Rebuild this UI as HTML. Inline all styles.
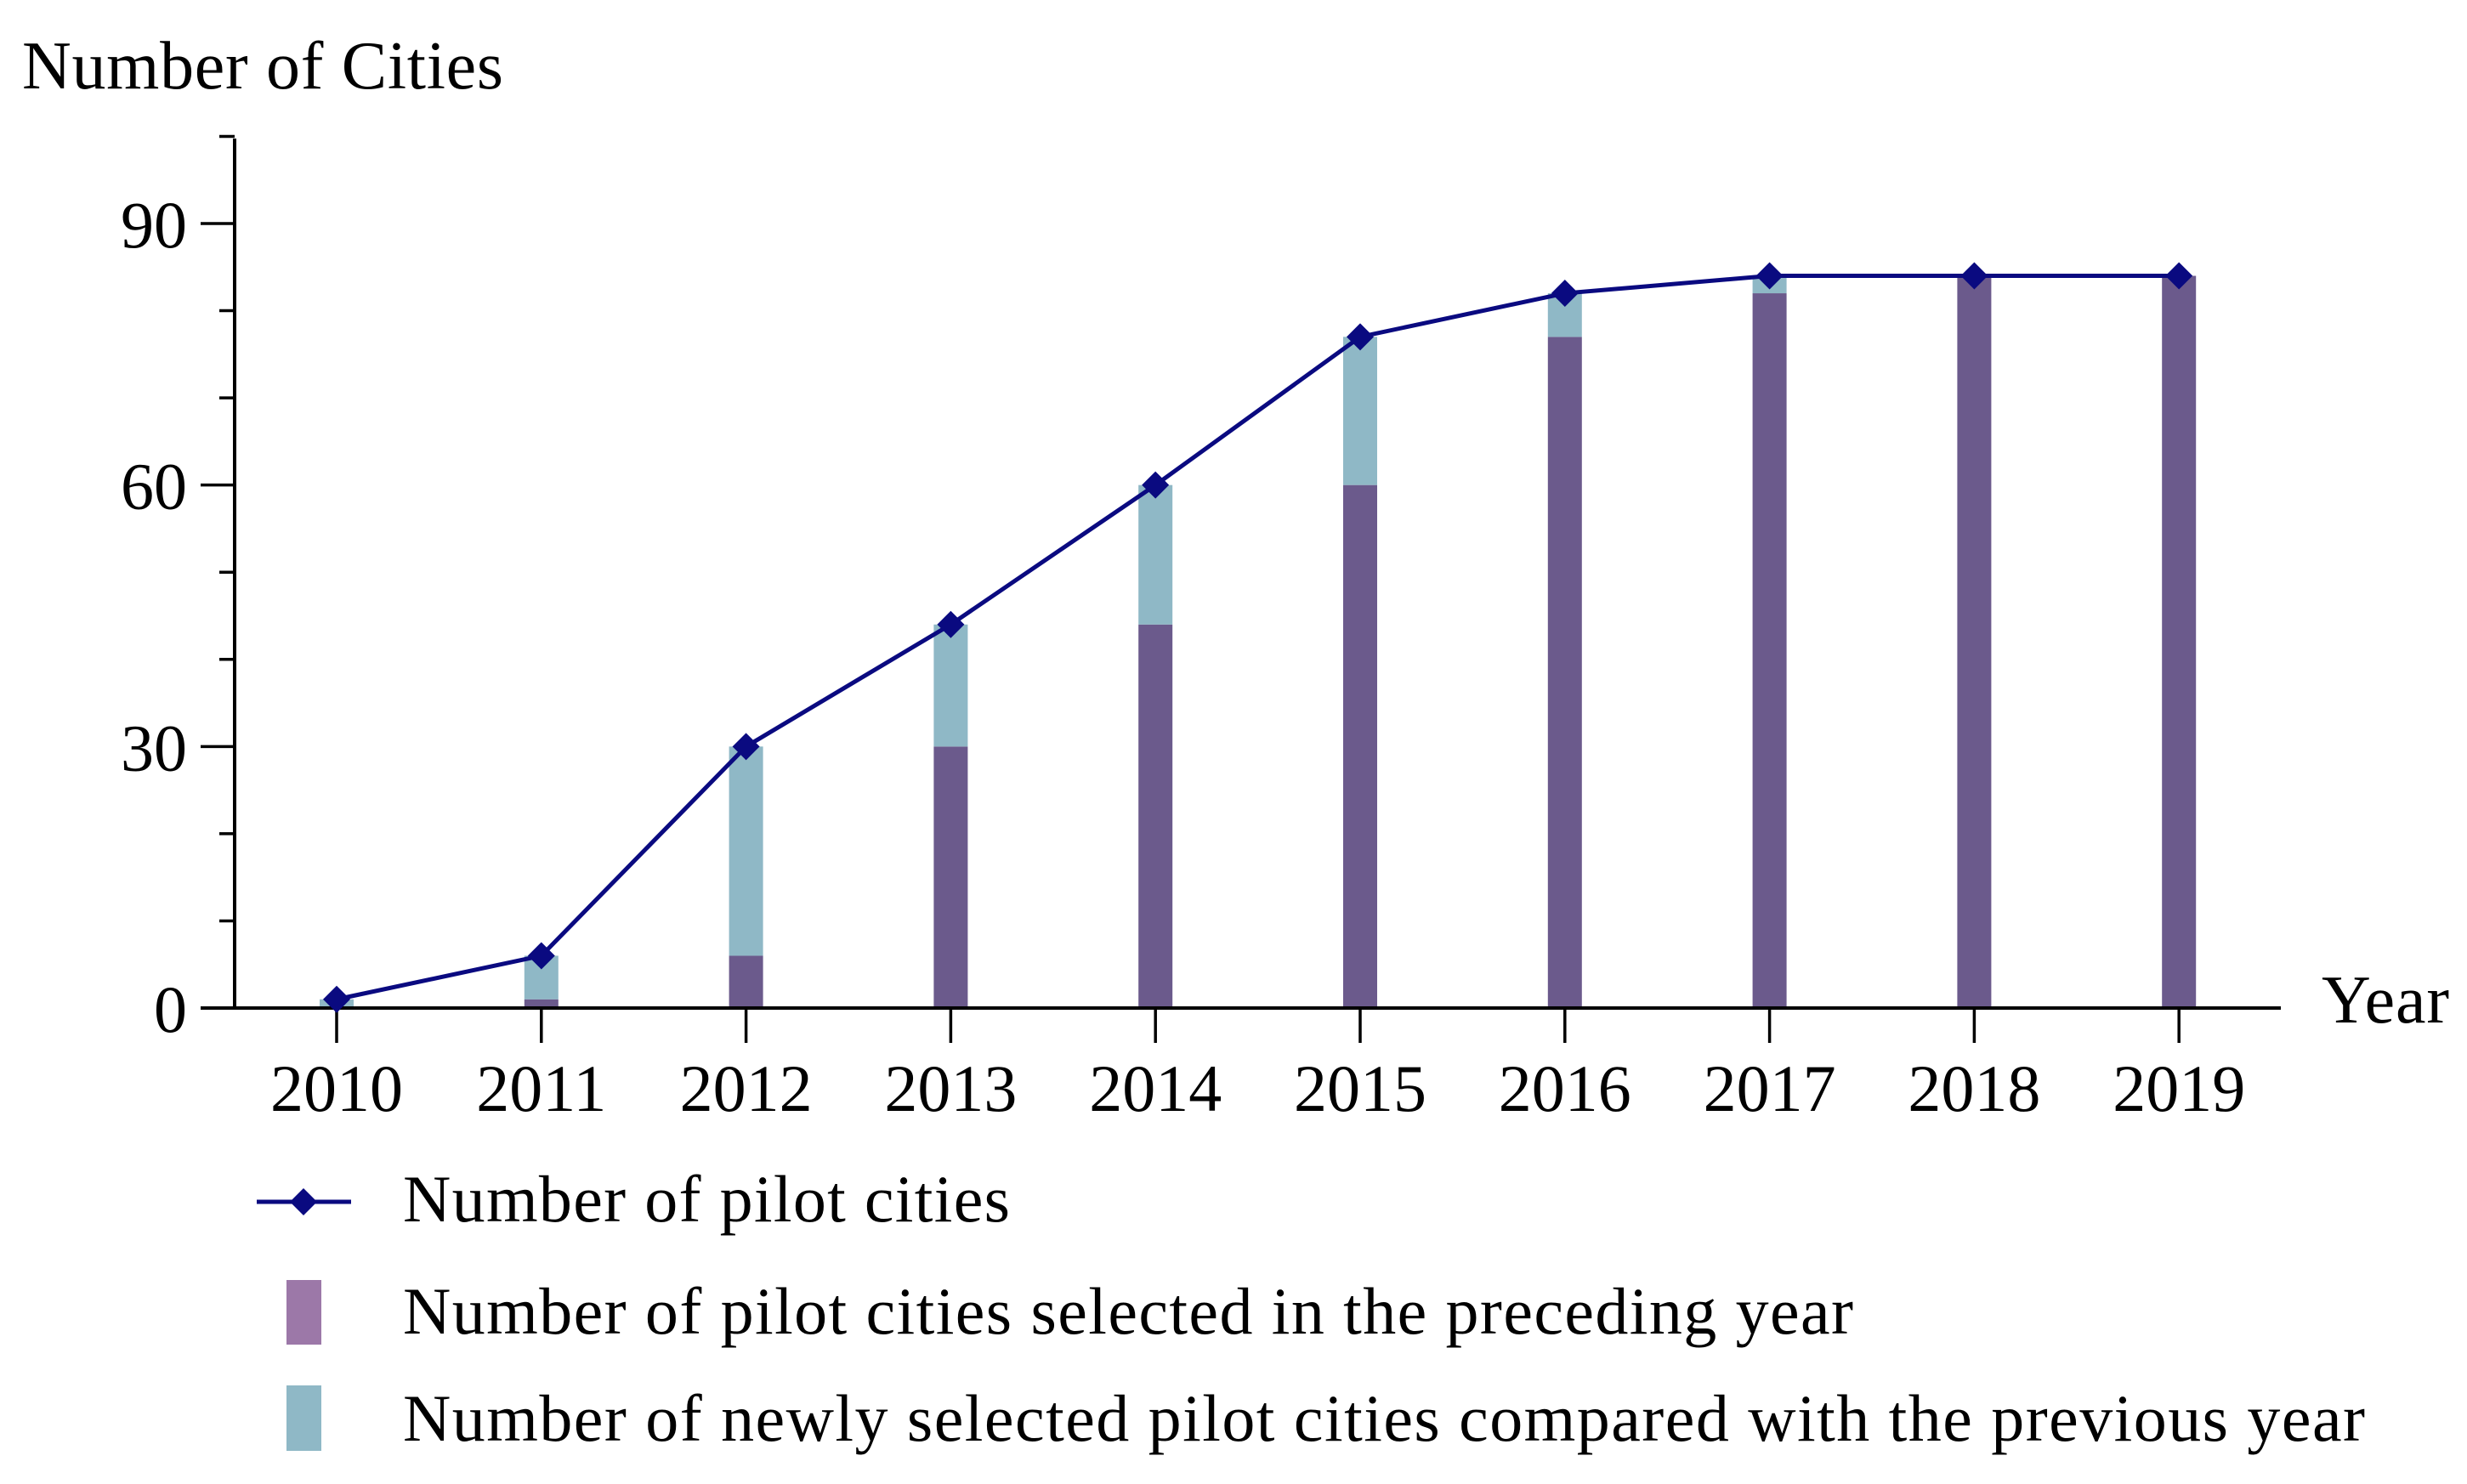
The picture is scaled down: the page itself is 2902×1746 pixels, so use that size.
<!DOCTYPE html>
<html><head><meta charset="utf-8"><style>
html,body{margin:0;padding:0;background:#fff;}
svg{display:block;font-family:"Liberation Serif",serif;}
</style></head><body>
<svg id="chart" width="2902" height="1746" viewBox="0 0 2902 1746">
<text x="26" y="104" font-size="80" textLength="566">Number of Cities</text>
<text x="2731" y="1203" font-size="80" textLength="150">Year</text>
<g id="bars"></g>
<g id="axes"></g>
<g id="line"></g>
<g>
<line x1="302" y1="1414" x2="413" y2="1414" stroke="#0a0a80" stroke-width="5"/>
<polygon points="357,1398 373,1414 357,1430 341,1414" fill="#0a0a80"/>
<text x="474" y="1437" font-size="78" textLength="714">Number of pilot cities</text>
<rect x="337" y="1506" width="41" height="76" fill="#9c78a8"/>
<text x="474" y="1569" font-size="78" textLength="1706">Number of pilot cities selected in the preceding year</text>
<rect x="337" y="1630" width="41" height="77" fill="#8fb8c6"/>
<text x="474" y="1695" font-size="78" textLength="2308">Number of newly selected pilot cities compared with the previous year</text>
</g>
</svg>
<script>
const years = ["2010","2011","2012","2013","2014","2015","2016","2017","2018","2019"];
const preceding = [0,1,6,30,44,60,77,82,84,84];
const newlySelected = [1,5,24,14,16,17,5,2,0,0];
const totals = [1,6,30,44,60,77,82,84,84,84];
const yTicks = [0,30,60,90];

const NS = "http://www.w3.org/2000/svg";
const x = i => 396 + i * 240.8;
const y = v => 1186 - v * (1186 - 263) / 90;
function mk(tag, attrs, parent, text){
  const e = document.createElementNS(NS, tag);
  for (const k in attrs) e.setAttribute(k, attrs[k]);
  if (text !== undefined) e.textContent = text;
  parent.appendChild(e);
  return e;
}
const bars = document.getElementById('bars');
const axes = document.getElementById('axes');
const lineG = document.getElementById('line');
const bw = 40;
years.forEach((yr, i) => {
  if (preceding[i] > 0) {
    const r = mk('rect', {x: x(i)-bw/2, y: y(preceding[i]), width: bw, height: y(0)-y(preceding[i]), fill: '#6b5a8c'}, bars);
    
    
  }
  if (newlySelected[i] > 0) {
    const top = preceding[i] + newlySelected[i];
    const r = mk('rect', {x: x(i)-bw/2, y: y(top), width: bw, height: y(preceding[i])-y(top), fill: '#8fb8c6'}, bars);
    
    
  }
});
const ya = mk('line', {x1: 276, y1: 163, x2: 276, y2: 1188, stroke: '#000', 'stroke-width': 4}, axes);


const xa = mk('line', {x1: 236, y1: 1186, x2: 2683, y2: 1186, stroke: '#000', 'stroke-width': 4}, axes);


for (let v = 0; v <= 100; v += 10) {
  const major = v % 30 === 0;
  const t = mk('line', {x1: major ? 236 : 258, y1: y(v), x2: 276, y2: y(v), stroke: '#000', 'stroke-width': 3.5}, axes);
  
  
}
yTicks.forEach(v => {
  const t = mk('text', {x: 220, y: y(v) + 28, 'font-size': 78, 'text-anchor': 'end'}, axes, String(v));
  
  
});
years.forEach((yr, i) => {
  const t = mk('line', {x1: x(i), y1: 1186, x2: x(i), y2: 1227, stroke: '#000', 'stroke-width': 3.5}, axes);
  
  
  const l = mk('text', {x: x(i), y: 1307, 'font-size': 78, 'text-anchor': 'middle'}, axes, yr);
  
  
});
const pts = totals.map((v, i) => x(i) + ',' + y(v)).join(' ');
const pl = mk('polyline', {points: pts, fill: 'none', stroke: '#0a0a80', 'stroke-width': 5}, lineG);


totals.forEach((v, i) => {
  const cx = x(i), cy = y(v), s = 16;
  const d = mk('polygon', {points: `${cx},${cy-s} ${cx+s},${cy} ${cx},${cy+s} ${cx-s},${cy}`, fill: '#0a0a80'}, lineG);
  
  
});
</script>
</body></html>
